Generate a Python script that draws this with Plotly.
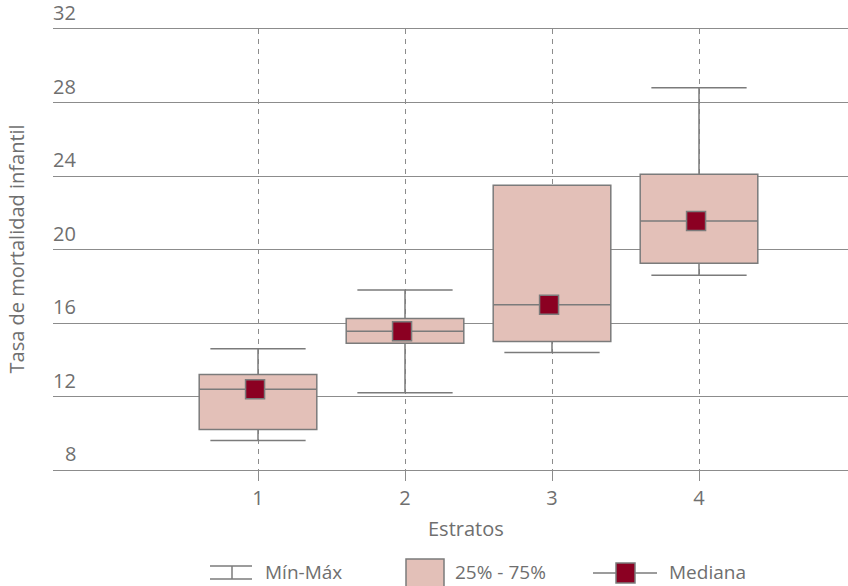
import plotly.graph_objects as go

# ---- data ----
strata = [1, 2, 3, 4]
tick_labels = ["1", "2", "3", "4"]
v_min = [9.6, 12.2, 14.4, 18.6]
v_q1 = [10.2, 14.9, 15.0, 19.25]
v_median = [12.4, 15.55, 17.0, 21.55]
v_q3 = [13.2, 16.25, 23.5, 24.1]
v_max = [14.6, 17.8, 23.5, 28.8]
y_ticks = [8, 12, 16, 20, 24, 28, 32]

x_title = "Estratos"
y_title = "Tasa de mortalidad infantil"
legend_labels = ["Mín-Máx", "25% - 75%", "Mediana"]

# ---- style ----
W, H = 848, 586
L, R, T, B = 53, 0, 29, 116
FONT = "Open Sans"
TXT = "#6f6f6f"
GRID = "#8c8c8c"
EDGE = "#7b7b7b"
BOXFILL = "#e3c0b8"
MEDFILL = "#8b0022"
MED_OFFSET = -0.02


def px(x):
    return (x - L) / (W - L - R)


def py(y):
    return (H - B - y) / (H - T - B)


fig = go.Figure()

for i, s in enumerate(strata):
    fig.add_trace(go.Box(
        x=[s], q1=[v_q1[i]], median=[v_median[i]], q3=[v_q3[i]],
        lowerfence=[v_min[i]], upperfence=[v_max[i]],
        width=0.8, whiskerwidth=0.81,
        fillcolor=BOXFILL, line=dict(color=EDGE, width=1.5),
        showlegend=False, hoverinfo="skip", boxpoints=False,
    ))

fig.add_trace(go.Scatter(
    x=[s + MED_OFFSET for s in strata], y=v_median, mode="markers",
    marker=dict(symbol="square", size=19, color=MEDFILL,
                line=dict(color=EDGE, width=1.5)),
    showlegend=False, hoverinfo="skip",
))

# x: value 1 at pixel 258, 147 px per unit
x0 = 1 - (258 - L) / 147
x1 = x0 + (W - L - R) / 147

fig.update_xaxes(
    range=[x0, x1], tickmode="array", tickvals=strata, ticktext=tick_labels,
    showgrid=True, gridcolor=GRID, gridwidth=1.3, griddash="5px,5px",
    ticks="outside", ticklen=10, tickcolor=GRID, tickwidth=1.3,
    tickfont=dict(family=FONT, size=20, color=TXT),
    zeroline=False, showline=True, mirror=True, linecolor=GRID, linewidth=1.3,
)
fig.update_yaxes(
    range=[y_ticks[0], y_ticks[-1]], tickmode="array", tickvals=y_ticks,
    showticklabels=False, showgrid=True, gridcolor=GRID, gridwidth=1.3,
    zeroline=False, showline=False,
)

annotations = []
for v in y_ticks:
    annotations.append(dict(
        x=px(78), xref="paper", y=v, yref="y", text=str(v),
        xanchor="right", yanchor="bottom", yshift=1, showarrow=False,
        font=dict(family=FONT, size=20, color=TXT),
    ))
annotations.append(dict(
    x=px(16), xref="paper", y=0.5, yref="paper", text=y_title, textangle=-90,
    xanchor="center", yanchor="middle", showarrow=False,
    font=dict(family=FONT, size=20, color=TXT),
))
annotations.append(dict(
    x=px(466), xref="paper", y=py(528), yref="paper", text=x_title,
    xanchor="center", yanchor="middle", showarrow=False,
    font=dict(family=FONT, size=20, color=TXT),
))

# legend (drawn manually)
ly = 572
legend_text_x = [263, 453, 667]
for lab, lx in zip(legend_labels, legend_text_x):
    annotations.append(dict(
        x=px(lx), xref="paper", y=py(ly), yref="paper", text=lab,
        xanchor="left", yanchor="middle", showarrow=False,
        font=dict(family=FONT, size=19, color=TXT),
    ))

shapes = []
lc = dict(color=EDGE, width=1.5)
for (xa, ya, xb, yb) in [(210, 566, 252, 566), (210, 579, 252, 579), (232, 566, 232, 579),
                         (593, 573, 657, 573)]:
    shapes.append(dict(type="line", xref="paper", yref="paper",
                       x0=px(xa), y0=py(ya), x1=px(xb), y1=py(yb), line=lc))
shapes.append(dict(type="rect", xref="paper", yref="paper",
                   x0=px(406), y0=py(559), x1=px(444), y1=py(594),
                   fillcolor=BOXFILL, line=lc))
shapes.append(dict(type="rect", xref="paper", yref="paper",
                   x0=px(616), y0=py(563), x1=px(635), y1=py(583),
                   fillcolor=MEDFILL, line=lc))

fig.update_layout(
    width=W, height=H, margin=dict(l=L, r=R, t=T, b=B),
    paper_bgcolor="white", plot_bgcolor="white",
    annotations=annotations, shapes=shapes, showlegend=False,
    font=dict(family=FONT, color=TXT),
)

fig.write_html("out.html", config={"displayModeBar": False})
